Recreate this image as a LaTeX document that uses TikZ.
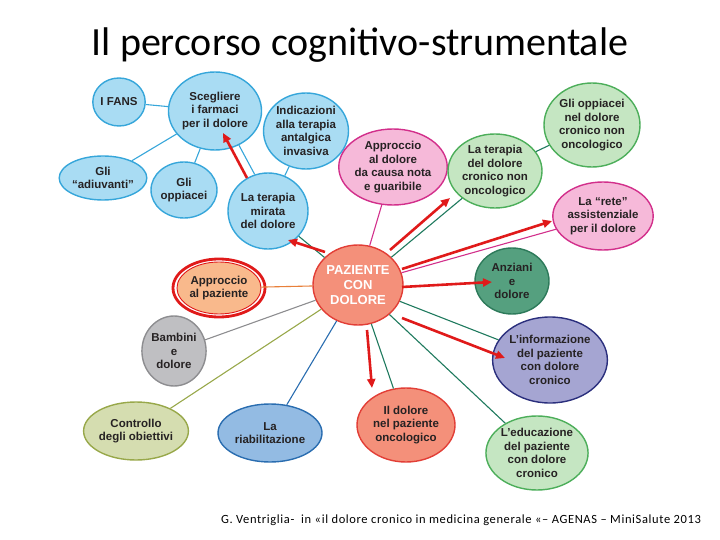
\documentclass[tikz,border=0pt]{standalone}
\usepackage{fontspec}
\setmainfont{Liberation Sans}
\newfontfamily\slidefont{Carlito}
\newfontfamily\notefont[LetterSpace=5]{Carlito}
\usepackage{tikz}
\usetikzlibrary{arrows.meta, shapes.geometric, positioning}

\definecolor{txtdark}{HTML}{262223}
\definecolor{bluefill}{HTML}{A9DCF3}
\definecolor{blueline}{HTML}{36A6DA}
\definecolor{pinkfill}{HTML}{F6B9D9}
\definecolor{pinkline}{HTML}{D22F8B}
\definecolor{lgreenfill}{HTML}{C5E6C2}
\definecolor{lgreenline}{HTML}{4CAE5A}
\definecolor{tealline}{HTML}{1F7A5E}
\definecolor{dgreenfill}{HTML}{55A07F}
\definecolor{dgreenline}{HTML}{2D7A5A}
\definecolor{lavfill}{HTML}{A5A5D2}
\definecolor{lavline}{HTML}{2B2F7D}
\definecolor{salmonfill}{HTML}{F4907A}
\definecolor{salmonline}{HTML}{E23E36}
\definecolor{orangefill}{HTML}{F9B98C}
\definecolor{orangeline}{HTML}{E8803A}
\definecolor{greyfill}{HTML}{BFBFC2}
\definecolor{greyline}{HTML}{8D8D90}
\definecolor{olivefill}{HTML}{D5DDB0}
\definecolor{oliveline}{HTML}{98A84A}
\definecolor{riabfill}{HTML}{93BBE3}
\definecolor{riabline}{HTML}{2A6DB0}
\definecolor{arrred}{HTML}{E01A1A}

\newcommand\bubfont{\fontsize{11.5}{13.5}\selectfont\bfseries}

\begin{document}
\begin{tikzpicture}[
  x=1pt, y=-1pt,
  bub/.style={ellipse, draw, line width=1.4pt, inner sep=0pt,
              align=center, font=\bubfont, text=txtdark},
  blu/.style={bub, fill=bluefill, draw=blueline},
  pnk/.style={bub, fill=pinkfill, draw=pinkline},
  lgr/.style={bub, fill=lgreenfill, draw=lgreenline},
  sal/.style={bub, fill=salmonfill, draw=salmonline},
  link/.style={line width=1.1pt},
  redarr/.style={-{Triangle[length=9pt,width=8pt]}, line width=2.6pt, draw=arrred}
]
\useasboundingbox (0,0) rectangle (720,540);

\node[anchor=base, font=\slidefont\fontsize{40}{44}\selectfont] (title) at (360,56)
  {Il percorso cognitivo-strumentale};

% top left cluster
\node[blu, minimum width=52pt, minimum height=48pt] (fans) at (119,102) {I FANS};
\node[blu, minimum width=90pt, minimum height=78pt] (scegliere) at (215,111)
  {Scegliere\\i farmaci\\per il dolore};
\node[blu, minimum width=82pt, minimum height=76pt] (indicazioni) at (306,131)
  {Indicazioni\\alla terapia\\antalgica\\invasiva};
\node[blu, minimum width=80pt, minimum height=44pt] (adiuvanti) at (103,178)
  {Gli\\“adiuvanti”};
\node[blu, minimum width=64pt, minimum height=56pt] (goppiacei) at (184,190)
  {Gli\\oppiacei};
\node[blu, minimum width=80pt, minimum height=76pt] (tmirata) at (268,211)
  {La terapia\\mirata\\del dolore};

% top right cluster
\node[pnk, minimum width=86pt, minimum height=76pt] (apdolore) at (393,167)
  {Approccio\\al dolore\\da causa nota\\e guaribile};
\node[lgr, minimum width=94pt, minimum height=74pt] (tcronico) at (495,171)
  {La terapia\\del dolore\\cronico non\\oncologico};
\node[lgr, minimum width=96pt, minimum height=84pt] (opcronico) at (592,125)
  {Gli oppiacei\\nel dolore\\cronico non\\oncologico};
\node[pnk, minimum width=96pt, minimum height=68pt] (rete) at (603,216)
  {La “rete”\\assistenziale\\per il dolore};

% centre
\node[sal, minimum width=90pt, minimum height=80pt, text=white,
      font=\fontsize{13}{15}\selectfont\bfseries] (paz) at (358,285)
  {PAZIENTE\\CON\\DOLORE};
\node[bub, fill=orangefill, draw=arrred, line width=0.9pt,
      minimum width=84pt, minimum height=52pt] (appaz) at (219,288)
  {Approccio\\al paziente};
\draw[arrred, line width=2.8pt] (appaz.center) ellipse [x radius=46pt, y radius=29pt];

% bottom
\node[bub, fill=greyfill, draw=greyline, minimum width=62pt, minimum height=70pt]
  (bambini) at (174,351) {Bambini\\e\\dolore};
\node[bub, fill=olivefill, draw=oliveline, minimum width=98pt, minimum height=58pt]
  (controllo) at (136,431) {Controllo\\degli obiettivi};
\node[bub, fill=riabfill, draw=riabline, minimum width=104pt, minimum height=58pt]
  (riab) at (270,433) {La\\riabilitazione};
\node[sal, minimum width=98pt, minimum height=74pt] (onco) at (406,425)
  {Il dolore\\nel paziente\\oncologico};
\node[bub, fill=dgreenfill, draw=dgreenline, minimum width=74pt, minimum height=66pt]
  (anziani) at (512,281) {Anziani\\e\\dolore};
\node[bub, fill=lavfill, draw=lavline, minimum width=114pt, minimum height=86pt]
  (info) at (550,360) {L’informazione\\del paziente\\con dolore\\cronico};
\node[lgr, minimum width=100pt, minimum height=74pt] (edu) at (537,453)
  {L’educazione\\del paziente\\con dolore\\cronico};

\node[font=\notefont\fontsize{12.5}{14}\selectfont, anchor=base] (fonte) at (461,523)
  {G. Ventriglia-\ \ in «il dolore cronico in medicina generale «– AGENAS – MiniSalute 2013};

% links
\foreach \a/\b/\c in {fans/scegliere/blueline, adiuvanti/scegliere/blueline,
    goppiacei/scegliere/blueline, indicazioni/tmirata/blueline,
    tmirata/paz/tealline, apdolore/paz/pinkline, tcronico/paz/tealline,
    opcronico/tcronico/tealline, rete/paz/pinkline, info/paz/tealline,
    edu/paz/tealline, onco/paz/tealline, riab/paz/riabline,
    controllo/paz/oliveline, bambini/paz/greyline, appaz/paz/orangeline}{
  \draw[link, \c] (\a) -- (\b);
}
\draw[link, blueline] (tmirata.110) -- (scegliere.-55);

% red arrows
\foreach \n/\sx/\sy/\ex/\ey in {a/247/178/223/133, b/325/252/288/240,
    c/390/250/450/198, d/402/269/552/221, e/402/287/492/282,
    f/402/318/505/358, g/367/330/372/388}{
  \coordinate (s\n) at (\sx,\sy);
  \coordinate (e\n) at (\ex,\ey);
  \draw[redarr] (s\n) -- (e\n);
}

\end{tikzpicture}
\end{document}
